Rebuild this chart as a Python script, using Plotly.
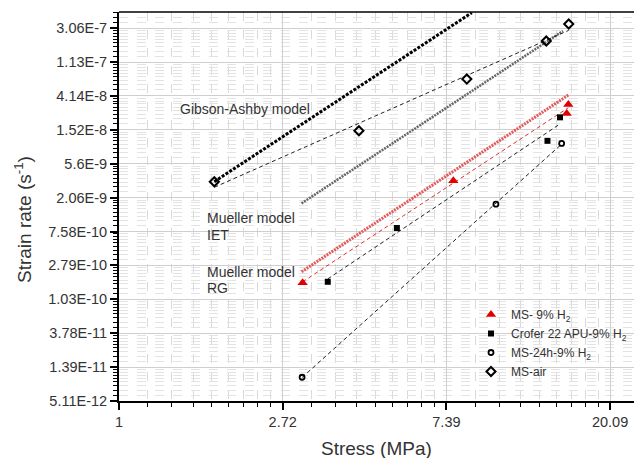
import numpy as np
import plotly.graph_objects as go

# ---------------- data ----------------
ms9_x = [3.07, 7.71, 15.56, 15.41]
ms9_y = [1.67e-10, 3.39e-9, 3.22e-8, 2.47e-8]

crofer_x = [3.58, 5.46, 13.7, 14.79]
crofer_y = [1.72e-10, 8.4e-10, 1.10e-8, 2.20e-8]

ms24_x = [3.06, 10.0, 14.94]
ms24_y = [1.03e-11, 1.70e-9, 1.02e-8]

msair_x = [1.79, 4.33, 8.37, 13.6, 15.6]
msair_y = [3.29e-9, 1.48e-8, 6.80e-8, 2.09e-7, 3.45e-7]

# model lines (end points)
gibson_x = [1.79, 8.63]
gibson_y = [3.3e-9, 4.82e-7]
iet_x = [3.05, 15.06]
iet_y = [1.74e-9, 2.81e-7]
rg_x = [3.05, 15.56]
rg_y = [2.31e-10, 4.24e-8]

x_tick_exp = [0, 1, 2, 3]
x_tick_text = ["1", "2.72", "7.39", "20.09"]
y_tick_exp = list(range(-26, -14))
y_tick_text = ["5.11E-12", "1.39E-11", "3.78E-11", "1.03E-10", "2.79E-10",
               "7.58E-10", "2.06E-9", "5.6E-9", "1.52E-8", "4.14E-8",
               "1.13E-7", "3.06E-7"]

FONT = "Liberation Sans, Arial, sans-serif"
TXT = "#333333"


def fit_line(xs, ys):
    lx, ly = np.log(xs), np.log(ys)
    k, b = np.polyfit(lx, ly, 1)
    xe = np.array([lx.min(), lx.max()])
    return np.exp(xe), np.exp(k * xe + b)


def minor_vals(exps, parts=9):
    vals = []
    for n in exps[:-1]:
        a, b = np.exp(n), np.exp(n + 1)
        step = (b - a) / parts
        vals += [a + step * i for i in range(1, parts)]
    return vals


fig = go.Figure()

# model lines
fig.add_trace(go.Scatter(x=gibson_x, y=gibson_y, mode="lines", showlegend=False,
                         line=dict(color="black", width=3, dash="3px,1.5px")))
fig.add_trace(go.Scatter(x=iet_x, y=iet_y, mode="lines", showlegend=False,
                         line=dict(color="#666666", width=2.5, dash="2px,1px")))
fig.add_trace(go.Scatter(x=rg_x, y=rg_y, mode="lines", showlegend=False,
                         line=dict(color="#e25a5a", width=3, dash="2px,1px")))

# fitted dashed lines
for xs, ys, col in [(ms9_x, ms9_y, "#e03030"), (crofer_x, crofer_y, "#222222"),
                    (ms24_x, ms24_y, "#222222"), (msair_x, msair_y, "#222222")]:
    fx, fy = fit_line(xs, ys)
    fig.add_trace(go.Scatter(x=fx, y=fy, mode="lines", showlegend=False,
                             line=dict(color=col, width=1, dash="4px,3px")))

# data series
fig.add_trace(go.Scatter(x=ms9_x, y=ms9_y, mode="markers", name="MS- 9% H<sub>2</sub>",
                         marker=dict(symbol="triangle-up", size=9, color="#e00000")))
fig.add_trace(go.Scatter(x=crofer_x, y=crofer_y, mode="markers",
                         name="Crofer 22 APU-9% H<sub>2</sub>",
                         marker=dict(symbol="square", size=6, color="black")))
fig.add_trace(go.Scatter(x=ms24_x, y=ms24_y, mode="markers", name="MS-24h-9% H<sub>2</sub>",
                         marker=dict(symbol="circle-open", size=5, color="black",
                                     line=dict(width=1.8, color="black"))))
fig.add_trace(go.Scatter(x=msair_x, y=msair_y, mode="markers", name="MS-air",
                         marker=dict(symbol="diamond-open", size=7, color="black",
                                     line=dict(width=2, color="black"))))

# page geometry (the page body adds an 8px offset)
OFF = 8
PL, PT, PB, PR = 119, 12, 401, 642   # plot area edges in page pixels
pw, ph = PR - PL, PB - PT
fig_w = PR - OFF
fig_h = 458 - OFF
mL, mT = PL - OFF, PT - OFF
mB = fig_h - mT - ph

def px(xp):
    return (xp - PL) / pw

def py(yp):
    return (PB - yp) / ph

x_lo, x_hi = 0.0, pw / 163.7
y_lo = -26.0
y_hi = -26 + ph / 33.9

fig.update_xaxes(type="log", range=[x_lo / np.log(10), x_hi / np.log(10)],
                 tickmode="array", tickvals=[np.exp(e) for e in x_tick_exp],
                 ticktext=x_tick_text, ticks="outside", ticklen=7, tickwidth=1.5,
                 tickcolor="black", showline=True, linecolor="black", linewidth=2,
                 showgrid=True, gridcolor="#cfcfcf", gridwidth=1, zeroline=False,
                 tickfont=dict(family=FONT, size=14.5, color=TXT),
                 minor=dict(tickmode="array", tickvals=minor_vals(x_tick_exp + [4]),
                            ticks="outside", ticklen=4, tickwidth=1.2, tickcolor="black",
                            showgrid=True, gridcolor="#d9d9d9", gridwidth=1, griddash="dash"))
fig.update_yaxes(type="log", range=[y_lo / np.log(10), y_hi / np.log(10)],
                 tickmode="array", tickvals=[np.exp(e) for e in y_tick_exp],
                 ticktext=y_tick_text, ticks="outside", ticklen=7, tickwidth=1.5,
                 tickcolor="black", showline=True, linecolor="black", linewidth=2,
                 showgrid=True, gridcolor="#cfcfcf", gridwidth=1, zeroline=False,
                 tickfont=dict(family=FONT, size=14.5, color=TXT),
                 minor=dict(tickmode="array", tickvals=minor_vals(y_tick_exp + [-14]),
                            ticks="outside", ticklen=4, tickwidth=1.2, tickcolor="black",
                            showgrid=True, gridcolor="#e3e3e3", gridwidth=1, griddash="dash"))

shapes = [
    dict(type="line", xref="paper", yref="paper", x0=0, x1=1, y0=1, y1=1,
         line=dict(color="black", width=1.5)),
    dict(type="rect", xref="paper", yref="paper", x0=px(448), x1=1.0, y0=0, y1=py(283),
         fillcolor="white", line=dict(width=0), layer="between"),
]

ann = []
def add_text(text, x, y, size=14, xanchor="left", angle=0):
    ann.append(dict(text=text, x=x, y=y, xref="paper", yref="paper", showarrow=False,
                    xanchor=xanchor, yanchor="middle", textangle=angle,
                    font=dict(family=FONT, size=size, color=TXT)))

add_text("Gibson-Ashby model", px(178), py(109))
add_text("Mueller model", px(205), py(218))
add_text("IET", px(205), py(235))
add_text("Mueller model", px(205), py(272))
add_text("RG", px(205), py(288))
add_text("Stress (MPa)", px(376), py(449), size=19, xanchor="center")
add_text("Strain rate (s<sup>-1</sup>)", px(23), py(220), size=19, xanchor="center", angle=-90)

fig.update_layout(
    width=fig_w, height=fig_h, margin=dict(l=mL, r=0, t=mT, b=mB, autoexpand=False),
    paper_bgcolor="white", plot_bgcolor="white",
    shapes=shapes, annotations=ann,
    legend=dict(x=px(471), y=py(300), xanchor="left", yanchor="top",
                bgcolor="rgba(0,0,0,0)", font=dict(family=FONT, size=12, color=TXT),
                tracegroupgap=0),
    font=dict(family=FONT, color=TXT),
)

fig.write_html("out.html")
